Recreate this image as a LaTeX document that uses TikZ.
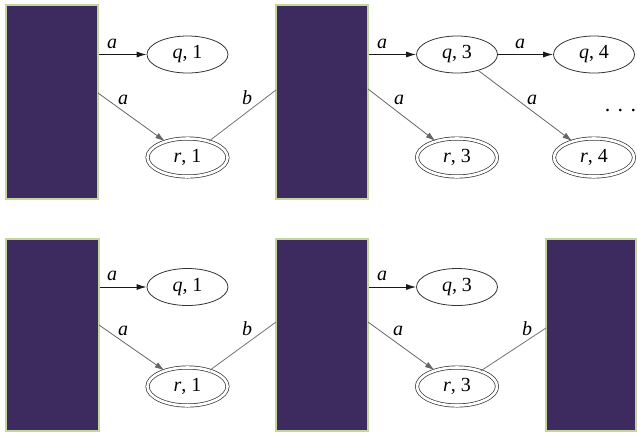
\documentclass[tikz,border=0pt]{standalone}
\usepackage{fontspec}
\setmainfont{Liberation Serif}
\usetikzlibrary{arrows.meta,shapes.geometric}
\definecolor{blkfill}{HTML}{3D2A5E}
\definecolor{blkedge}{HTML}{C3D69B}
\newcommand\stlbl[2]{\textit{#1},\hspace{0.25em}#2}
\tikzset{
  blk/.style={draw=blkedge, line width=2pt, fill=blkfill, rectangle, inner sep=0pt},
  st/.style={draw=black!80, line width=0.8pt, ellipse, minimum width=81pt, minimum height=37pt, inner sep=0pt,
    font=\fontsize{20}{22}\selectfont},
  acc/.style={st, double=white, double distance=2.6pt, line width=0.7pt, minimum width=80pt, minimum height=38pt},
  lab/.style={inner sep=0pt, font=\fontsize{20}{22}\selectfont\itshape},
  hedge/.style={draw=black!90, line width=0.9pt, -{Latex[length=10pt,width=6pt]}},
  dedge/.style={draw=black!60, line width=0.8pt, -{Latex[length=10pt,width=6pt]}},
  bedge/.style={draw=black!55, line width=0.8pt},
}
\begin{document}
\begin{tikzpicture}[x=1pt,y=-1pt]
\useasboundingbox (0,0) rectangle (637,432);
% ---------- top row ----------
\node[blk, minimum width=92pt, minimum height=194pt] (R1) at (52,102) {};
\node[blk, minimum width=92pt, minimum height=194pt] (R2) at (322,102) {};
\node[st] (q1) at (187.5,54.5) {\stlbl{q}{1}};
\node[acc] (r1) at (187.5,157.5) {\stlbl{r}{1}};
\node[st] (q3) at (457,54.5) {\stlbl{q}{3}};
\node[acc] (r3) at (457,157.5) {\stlbl{r}{3}};
\node[st] (q4) at (594,54.5) {\stlbl{q}{4}};
\node[acc] (r4) at (594,157.5) {\stlbl{r}{4}};
\coordinate (s1) at (R1.east |- q1);
\coordinate (d1) at (98,93);
\coordinate (e2) at (276,90);
\coordinate (s2) at (R2.east |- q3);
\coordinate (d2) at (368,89);
\draw[hedge] (s1) -- (q1);
\draw[dedge] (d1) -- (r1);
\draw[bedge] (r1) -- (e2);
\draw[hedge] (s2) -- (q3);
\draw[dedge] (d2) -- (r3);
\draw[hedge] (q3) -- (q4);
\draw[dedge] (q3) -- (r4);
\node[lab] (la1) at (112,44) {a};
\node[lab] (la2) at (123,100) {a};
\node[lab] (lb1) at (247,98) {b};
\node[lab] (la3) at (382,44) {a};
\node[lab] (la4) at (520,44) {a};
\node[lab] (la5) at (399,100) {a};
\node[lab] (la6) at (532,100) {a};
\node[inner sep=0pt, anchor=base, font=\fontsize{22}{24}\selectfont] (dots) at (620.5,111.5) {.\kern7.5pt.\kern7.5pt.};
% ---------- bottom row ----------
\node[blk, minimum width=93pt, minimum height=192pt] (B1) at (52.5,335) {};
\node[blk, minimum width=92pt, minimum height=192pt] (B2) at (322,335) {};
\node[blk, minimum width=90pt, minimum height=192pt] (B3) at (591,335) {};
\node[st] (bq1) at (187.5,287) {\stlbl{q}{1}};
\node[acc] (br1) at (187.5,386.5) {\stlbl{r}{1}};
\node[st] (bq3) at (457,287) {\stlbl{q}{3}};
\node[acc] (br3) at (457,386.5) {\stlbl{r}{3}};
\coordinate (bs1) at (B1.east |- bq1);
\coordinate (bd1) at (99,325);
\coordinate (be2) at (276,322);
\coordinate (bs2) at (B2.east |- bq3);
\coordinate (bd2) at (368,322);
\coordinate (be3) at (546,328);
\draw[hedge] (bs1) -- (bq1);
\draw[dedge] (bd1) -- (br1);
\draw[bedge] (br1) -- (be2);
\draw[hedge] (bs2) -- (bq3);
\draw[dedge] (bd2) -- (br3);
\draw[bedge] (br3) -- (be3);
\node[lab] (bla1) at (112,276) {a};
\node[lab] (bla2) at (123,331) {a};
\node[lab] (blb1) at (247,329) {b};
\node[lab] (bla3) at (382,276) {a};
\node[lab] (bla4) at (398,331) {a};
\node[lab] (blb2) at (527,329) {b};
\end{tikzpicture}
\end{document}
